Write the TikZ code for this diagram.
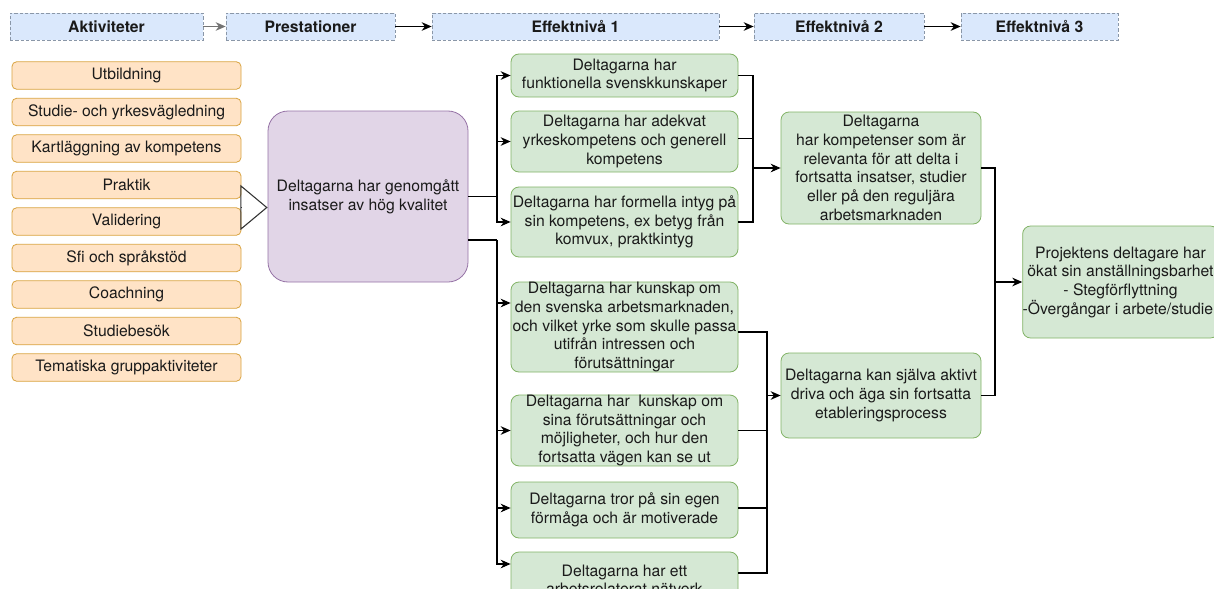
\documentclass[tikz,border=0pt]{standalone}
\usepackage{fontspec}
\setmainfont{TeX Gyre Heros}
\usetikzlibrary{arrows.meta,calc}
\definecolor{hfill}{HTML}{DAE8FC}
\definecolor{hdraw}{HTML}{8A97A8}
\definecolor{ofill}{HTML}{FFE3C6}
\definecolor{odraw}{HTML}{D9A441}
\definecolor{pfill}{HTML}{E1D5E7}
\definecolor{pdraw}{HTML}{9673A6}
\definecolor{gfill}{HTML}{D5E8D4}
\definecolor{gdraw}{HTML}{82B366}
\definecolor{txt}{HTML}{1A1A1A}
\newcommand\px{0.75pt}
\tikzset{
  base/.style={inner sep=0pt, align=center, text=txt, font=\fontsize{11.8}{14}\selectfont, line width=0.6pt},
  hbox/.style={base, fill=hfill, draw=hdraw, dash pattern=on 2.5pt off 1.5pt, font=\fontsize{11.8}{14}\selectfont\bfseries},
  obox/.style={base, fill=ofill, draw=odraw, rounded corners=3.5pt, minimum width=229*\px, minimum height=27.5*\px},
  pbox/.style={base, fill=pfill, draw=pdraw, rounded corners=15pt},
  gbox/.style={base, fill=gfill, draw=gdraw, rounded corners=6pt},
  arr/.style={-{Stealth[length=7.5pt,width=6.5pt]}, line width=0.8pt, black},
  ln/.style={line width=0.8pt, black},
}
\begin{document}
\begin{tikzpicture}[x=0.75pt,y=-0.75pt]
\path[use as bounding box] (0,0) rectangle (1214,589);
\clip (0,0) rectangle (1214,589);
\fill[white] (0,0) rectangle (1214,589);

% headers
\node[hbox, minimum width=193*\px, minimum height=27*\px] (h1) at (106.5,26.5) {Aktiviteter};
\node[hbox, minimum width=169*\px, minimum height=27*\px] (h2) at (310.5,26.5) {Prestationer};
\node[hbox, minimum width=287*\px, minimum height=27*\px] (h3) at (575.5,26.5) {Effektnivå 1};
\node[hbox, minimum width=170*\px, minimum height=27*\px] (h4) at (839,26.5) {Effektnivå 2};
\node[hbox, minimum width=157*\px, minimum height=27*\px] (h5) at (1039.5,26.5) {Effektnivå 3};
\draw[arr, black!55] (h1) -- (h2);
\draw[arr] (h2) -- (h3);
\draw[arr] (h3) -- (h4);
\draw[arr] (h4) -- (h5);

% activities
\node[obox] (a1) at (126.5,75.5) {Utbildning};
\node[obox] (a2) at (126.5,112) {Studie- och yrkesvägledning};
\node[obox] (a3) at (126.5,148.5) {Kartläggning av kompetens};
\node[obox] (a4) at (126.5,185) {Praktik};
\node[obox] (a5) at (126.5,221.5) {Validering};
\node[obox] (a6) at (126.5,258) {Sfi och språkstöd};
\node[obox] (a7) at (126.5,294.5) {Coachning};
\node[obox] (a8) at (126.5,331) {Studiebesök};
\node[obox] (a9) at (126.5,367.5) {Tematiska gruppaktiviteter};

% prestation
\node[pbox, minimum width=200*\px, minimum height=171*\px] (p) at (368,196.5) {Deltagarna har genomgått\\insatser av hög kvalitet};
\coordinate (grp) at (241,207.5);
\draw[-{Triangle[open,length=20.5pt,width=34pt]}, line width=0.8pt, black!80] (grp) -- (p.west |- grp);

% effektnivå 1
\node[gbox, minimum width=227*\px, minimum height=43*\px] (e1) at (624.5,75.5) {Deltagarna har\\funktionella svenskkunskaper};
\node[gbox, minimum width=227*\px, minimum height=61*\px] (e2) at (624.5,141.5) {Deltagarna har adekvat\\yrkeskompetens och generell\\kompetens};
\node[gbox, minimum width=227*\px, minimum height=70*\px] (e3) at (624.5,222) {Deltagarna har formella intyg på\\sin kompetens, ex betyg från\\komvux, praktkintyg};
\node[gbox, minimum width=227*\px, minimum height=90*\px] (e4) at (624.5,327) {Deltagarna har kunskap om\\den svenska arbetsmarknaden,\\och vilket yrke som skulle passa\\utifrån intressen och\\förutsättningar};
\node[gbox, minimum width=227*\px, minimum height=69*\px] (e5) at (624.5,430.5) {Deltagarna har~ kunskap om\\sina förutsättningar och\\möjligheter, och hur den\\fortsatta vägen kan se ut};
\node[gbox, minimum width=227*\px, minimum height=56*\px] (e6) at (624.5,510) {Deltagarna tror på sin egen\\förmåga och är motiverade};
\node[gbox, minimum width=227*\px, minimum height=56*\px] (e7) at (624.5,580) {Deltagarna har ett\\arbetsrelaterat nätverk};

% effektnivå 2
\node[gbox, minimum width=200*\px, minimum height=112*\px] (A) at (881,168) {Deltagarna\\har kompetenser som är\\relevanta för att delta i\\fortsatta insatser, studier\\eller på den reguljära\\arbetsmarknaden};
\node[gbox, minimum width=200*\px, minimum height=85*\px] (B) at (881,395.5) {Deltagarna kan själva aktivt\\driva och äga sin fortsatta\\etableringsprocess};

% effektnivå 3
\node[gbox, minimum width=195*\px, minimum height=112*\px] (C) at (1120.5,282) {Projektens deltagare har\\ökat sin anställningsbarhet\\- Stegförflyttning\\-Övergångar i arbete/studier};

% connectors prestation -> effektnivå 1
\coordinate (pa) at (p.east);
\coordinate (pb) at ($(p.east)+(0,43.5)$);
\coordinate (bus1) at (497,196.5);
\coordinate (bus2) at (497,240);
\draw[ln] (pa) -- (bus1);
\draw[arr] (bus1) |- (e1.west);
\draw[arr] (bus1) |- (e2.west);
\draw[arr] (bus1) |- (e3.west);
\draw[ln] (pb) -- (bus2);
\draw[arr] (bus2) |- ($(e4.west)+(0,-24)$);
\draw[arr] (bus2) |- (e5.west);
\draw[arr] (bus2) |- ($(e6.west)+(0,-2)$);
\draw[arr] (bus2) |- ($(e7.west)+(0,-16)$);

% effektnivå 1 -> A
\coordinate (j1) at (753,168);
\draw[ln] (e1.east) -| (j1);
\draw[ln] ($(e2.east)+(0,-3)$) -- ++(15,0);
\draw[ln] (e3.east) -| (j1);
\draw[arr] (j1) -- (A.west);

% effektnivå 1 -> B
\coordinate (j2) at (767,395.5);
\draw[ln] ($(e4.east)+(0,5)$) -| (j2);
\draw[ln] (e5.east) -| (j2);
\draw[ln] ($(e6.east)+(0,-2)$) -| (j2);
\draw[ln] ($(e7.east)+(0,-7)$) -| (j2);
\draw[arr] (j2) -- (B.west);

% effektnivå 2 -> 3
\coordinate (j3) at (995,282);
\draw[ln] (A.east) -| (j3);
\draw[ln] (B.east) -| (j3);
\draw[arr] (j3) -- (C.west);
\end{tikzpicture}
\end{document}
